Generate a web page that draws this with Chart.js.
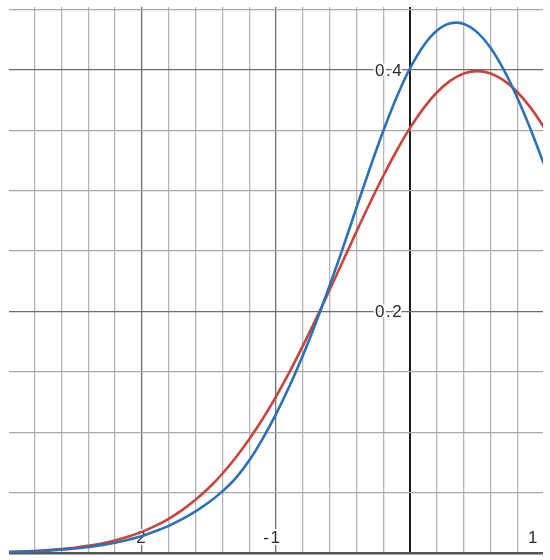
<!DOCTYPE html>
<html lang="en">
<head>
    <meta charset="UTF-8">
    <title>Density curves</title>
    <script src="https://cdn.jsdelivr.net/npm/chart.js"></script>
    <style>
        body { margin: 0; background: #fff; }
        .grafico { width: 550px; height: 560px; }
    </style>
</head>
<body>
    <div class="grafico"><canvas id="curvas"></canvas></div>

<script>
    // valores
    const xValues = [-3.0, -2.9, -2.8, -2.7, -2.6, -2.5, -2.4, -2.3, -2.2, -2.1, -2.0,
        -1.9, -1.8, -1.7, -1.6, -1.5, -1.4, -1.3, -1.2, -1.1, -1.0,
        -0.9, -0.8, -0.7, -0.6, -0.5, -0.4, -0.3, -0.2, -0.1, 0.0,
        0.1, 0.2, 0.3, 0.4, 0.5, 0.6, 0.7, 0.8, 0.9, 1.0];

    const redCurve = [0.0009, 0.0012, 0.0017, 0.0024, 0.0033, 0.0044, 0.0060, 0.0079, 0.0104, 0.0136, 0.0175,
        0.0224, 0.0283, 0.0355, 0.0440, 0.0540, 0.0656, 0.0790, 0.0941, 0.1109, 0.1295,
        0.1497, 0.1714, 0.1942, 0.2179, 0.2420, 0.2661, 0.2897, 0.3123, 0.3332, 0.3521,
        0.3683, 0.3814, 0.3910, 0.3970, 0.3989, 0.3970, 0.3910, 0.3814, 0.3683, 0.3521];

    const blueCurve = [0.0007, 0.0010, 0.0015, 0.0020, 0.0028, 0.0038, 0.0050, 0.0065, 0.0085, 0.0110, 0.0140,
        0.0180, 0.0225, 0.0280, 0.0345, 0.0420, 0.0510, 0.0620, 0.0765, 0.0945, 0.1150,
        0.1380, 0.1635, 0.1915, 0.2215, 0.2530, 0.2860, 0.3185, 0.3495, 0.3775, 0.4015,
        0.4200, 0.4325, 0.4385, 0.4380, 0.4310, 0.4180, 0.3995, 0.3765, 0.3500, 0.3210];

    const xTickLabels = [-2, -1, 1];
    const yTickLabels = [0.2, 0.4];

    function pontos(ys) {
        return xValues.map((x, i) => ({ x: x, y: ys[i] }));
    }

    function ehInteiro(v, passo) {
        return Math.abs(v / passo - Math.round(v / passo)) < 1e-6;
    }

    // rotulos dos eixos, desenhados antes das curvas (as curvas passam por cima)
    const rotulos = {
        id: 'rotulos',
        beforeDatasetsDraw(chart) {
            const ctx = chart.ctx;
            const x = chart.scales.x;
            const y = chart.scales.y;
            const area = chart.chartArea;
            const x0 = x.getPixelForValue(0);
            const y0 = y.getPixelForValue(0);

            ctx.save();
            ctx.font = '17px "Liberation Sans", Arial, sans-serif';
            ctx.letterSpacing = '1.5px';
            ctx.fillStyle = '#2a2a2a';
            ctx.strokeStyle = '#fff';
            ctx.lineWidth = 4;
            ctx.lineJoin = 'round';

            ctx.textAlign = 'right';
            ctx.textBaseline = 'middle';
            yTickLabels.forEach(v => {
                const texto = v.toFixed(1);
                const py = y.getPixelForValue(v) + 1;
                ctx.strokeText(texto, x0 - 7, py);
                ctx.fillText(texto, x0 - 7, py);
            });

            ctx.textAlign = 'left';
            xTickLabels.forEach(v => {
                const digitos = String(Math.abs(v));
                const sinal = v < 0 ? '-' : '';
                const wd = ctx.measureText(digitos).width;
                const ws = ctx.measureText(sinal).width;
                let px = x.getPixelForValue(v) - wd / 2 - ws;
                if (px + ws + wd > area.right - 4) px = area.right - 4 - ws - wd;
                const py = y0 - 15;
                ctx.strokeText(sinal + digitos, px, py);
                ctx.fillText(sinal + digitos, px, py);
            });
            ctx.restore();
        }
    };

    new Chart(document.getElementById('curvas'), {
        type: 'line',
        data: {
            datasets: [
                {
                    label: 'azul',
                    data: pontos(blueCurve),
                    borderColor: '#2d70b3',
                    borderWidth: 2.6,
                    pointRadius: 0,
                    tension: 0.4,
                    fill: false
                },
                {
                    label: 'vermelho',
                    data: pontos(redCurve),
                    borderColor: '#c74440',
                    borderWidth: 2.6,
                    pointRadius: 0,
                    tension: 0.4,
                    fill: false
                }
            ]
        },
        options: {
            responsive: true,
            maintainAspectRatio: false,
            animation: false,
            layout: {
                padding: { left: 9, right: 7, top: 7, bottom: 7 }
            },
            scales: {
                x: {
                    type: 'linear',
                    min: -2.99,
                    max: 0.99,
                    border: { display: false },
                    ticks: { display: false, stepSize: 0.2, includeBounds: false },
                    grid: {
                        drawTicks: false,
                        color: c => {
                            const v = c.tick.value;
                            if (Math.abs(v) < 1e-6) return '#1e1e1e';
                            return ehInteiro(v, 1) ? '#6e6e6e' : '#b4b4b4';
                        },
                        lineWidth: c => Math.abs(c.tick.value) < 1e-6 ? 2 : 1.3
                    }
                },
                y: {
                    min: 0,
                    max: 0.452,
                    border: { display: false },
                    ticks: { display: false, stepSize: 0.05, includeBounds: false },
                    grid: {
                        drawTicks: false,
                        color: c => {
                            const v = c.tick.value;
                            if (Math.abs(v) < 1e-6) return '#555';
                            return ehInteiro(v, 0.2) ? '#6e6e6e' : '#a8a8a8';
                        },
                        lineWidth: c => Math.abs(c.tick.value) < 1e-6 ? 2.5 : 1.3
                    }
                }
            },
            plugins: {
                legend: { display: false },
                tooltip: { enabled: false }
            }
        },
        plugins: [rotulos]
    });
</script>
</body>
</html>
